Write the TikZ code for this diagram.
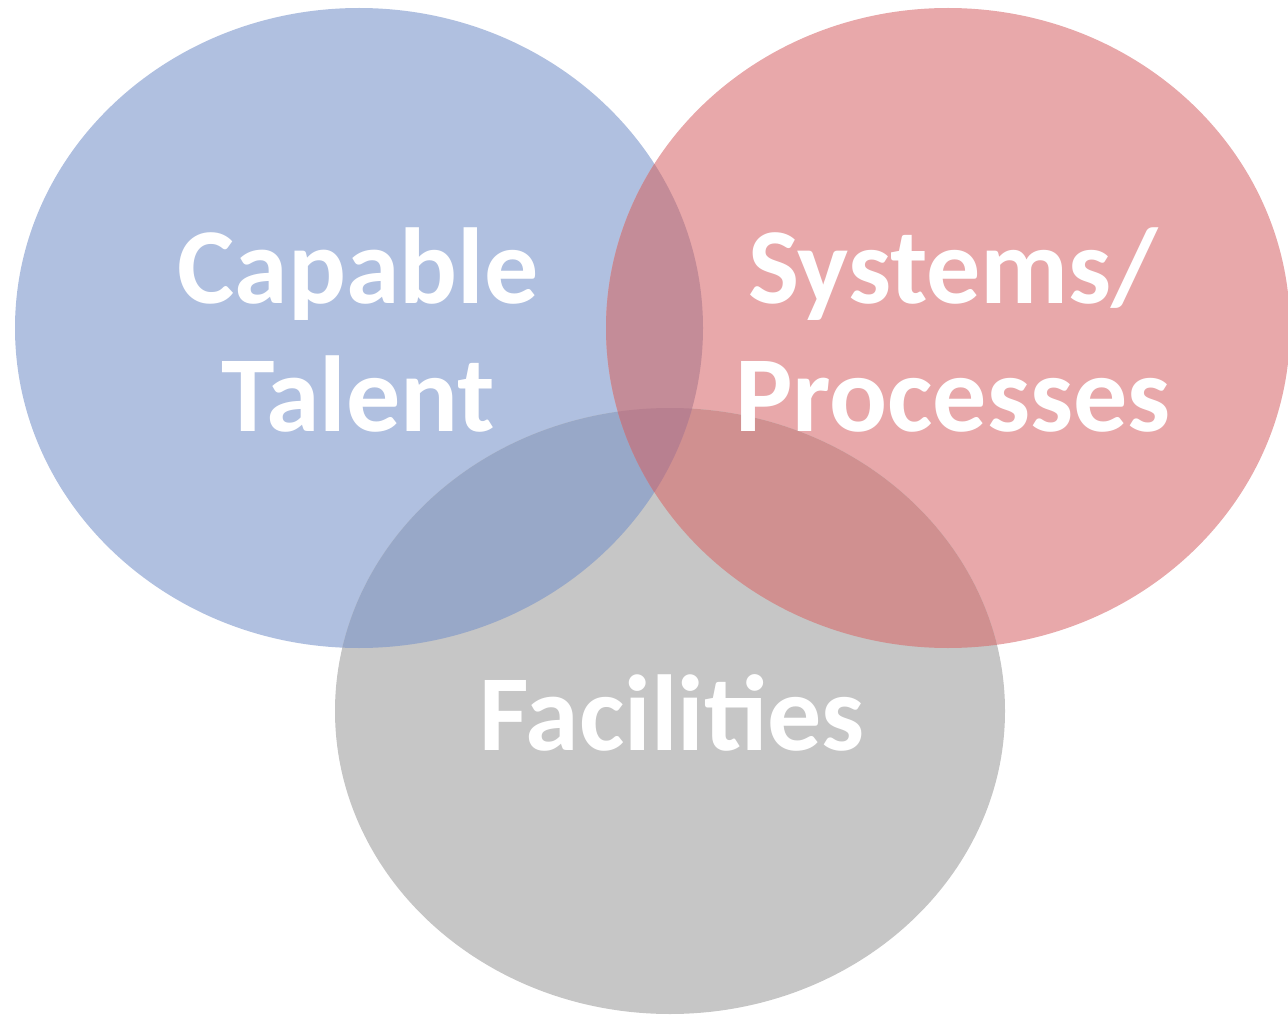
\documentclass[tikz,border=0pt]{standalone}
\usepackage{fontspec}
\setmainfont{Carlito}
\usepackage{tikz}

\definecolor{talentblue}{RGB}{176,192,224}
\definecolor{systemred}{RGB}{232,168,170}
\definecolor{facilgray}{RGB}{198,198,198}
\definecolor{bluegray}{RGB}{152,168,200}
\definecolor{redgray}{RGB}{208,144,144}
\definecolor{bluered}{RGB}{196,140,152}
\definecolor{allthree}{RGB}{184,128,144}

\tikzset{
  label/.style={text=white,font=\bfseries\fontsize{108}{128}\selectfont,align=center}
}

\begin{document}
\begin{tikzpicture}[x=1pt,y=-1pt]

\useasboundingbox (0,0) rectangle (1288,1019);

\def\blueset{(359,328) ellipse (344 and 320)}
\def\redset{(948,328) ellipse (342 and 320)}
\def\grayset{(670,711) ellipse (335 and 303)}

\fill[talentblue] \blueset;
\fill[systemred] \redset;
\fill[facilgray] \grayset;

\begin{scope}
 \clip \blueset;
 \fill[bluegray] \grayset;
\end{scope}
\begin{scope}
 \clip \redset;
 \fill[redgray] \grayset;
\end{scope}
\begin{scope}
 \clip \blueset;
 \fill[bluered] \redset;
\end{scope}
\begin{scope}
 \clip \blueset;
 \clip \redset;
 \fill[allthree] \grayset;
\end{scope}

\node[label] (talent) at (358,330) {Capable\\Talent};
\node[label] (systems) at (953,330) {Systems/\\Processes};
\node[label] (facilities) at (672,713) {Facilities};

\end{tikzpicture}
\end{document}
